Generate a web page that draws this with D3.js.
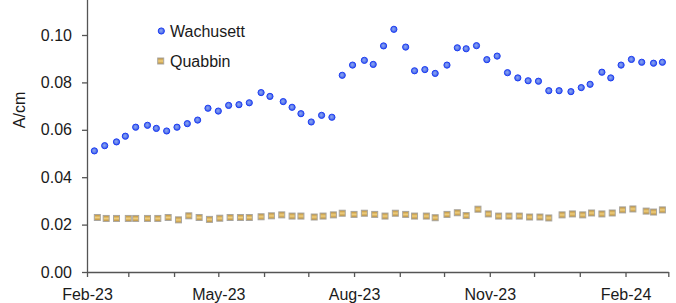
<!DOCTYPE html>
<html>
<head>
<meta charset="utf-8">
<script src="https://cdn.jsdelivr.net/npm/d3@7"></script>
<style>
  body { margin: 0; background: #fff; }
  svg { display: block; font-family: "Liberation Sans", Arial, sans-serif; }
</style>
</head>
<body>
<svg id="chart"></svg>
<script>
// sample dates (weekly) and absorbance values
const wachDates = ["2023-02-06","2023-02-13","2023-02-21","2023-02-27","2023-03-06","2023-03-14","2023-03-20","2023-03-27",
  "2023-04-03","2023-04-10","2023-04-17","2023-04-24","2023-05-01","2023-05-08","2023-05-15","2023-05-22","2023-05-30",
  "2023-06-05","2023-06-14","2023-06-20","2023-06-26","2023-07-03","2023-07-10","2023-07-17","2023-07-24","2023-07-31",
  "2023-08-08","2023-08-14","2023-08-21","2023-08-28","2023-09-05","2023-09-11","2023-09-18","2023-09-25","2023-10-03",
  "2023-10-10","2023-10-16","2023-10-23","2023-10-30","2023-11-06","2023-11-13","2023-11-20","2023-11-27","2023-12-04",
  "2023-12-11","2023-12-18","2023-12-26","2024-01-02","2024-01-08","2024-01-16","2024-01-22","2024-01-29","2024-02-05",
  "2024-02-12","2024-02-20","2024-02-26"];
const wachValues = [0.0511,0.0533,0.0549,0.0573,0.0611,0.0619,0.0606,0.0595,
  0.0611,0.0626,0.0641,0.0691,0.0679,0.0703,0.0706,0.0714,0.0757,
  0.0741,0.0719,0.0695,0.0668,0.0633,0.0661,0.0653,0.0830,0.0873,
  0.0893,0.0876,0.0954,0.1024,0.0949,0.0849,0.0854,0.0838,0.0873,
  0.0946,0.0942,0.0955,0.0896,0.0911,0.0841,0.0819,0.0807,0.0805,
  0.0765,0.0765,0.0761,0.0778,0.0792,0.0843,0.0819,0.0873,0.0897,
  0.0885,0.0881,0.0885];

const quabDates = ["2023-02-08","2023-02-14","2023-02-21","2023-03-01","2023-03-06","2023-03-14","2023-03-21","2023-03-28",
  "2023-04-04","2023-04-11","2023-04-18","2023-04-25","2023-05-02","2023-05-09","2023-05-16","2023-05-22","2023-05-30",
  "2023-06-06","2023-06-13","2023-06-20","2023-06-26","2023-07-05","2023-07-11","2023-07-18","2023-07-24","2023-08-01",
  "2023-08-08","2023-08-15","2023-08-22","2023-08-29","2023-09-05","2023-09-11","2023-09-19","2023-09-25","2023-10-03",
  "2023-10-10","2023-10-16","2023-10-24","2023-10-31","2023-11-07","2023-11-14","2023-11-21","2023-11-28","2023-12-05",
  "2023-12-11","2023-12-20","2023-12-27","2024-01-03","2024-01-09","2024-01-16","2024-01-23","2024-01-30","2024-02-06",
  "2024-02-15","2024-02-20","2024-02-26"];
const quabValues = [0.0230,0.0226,0.0226,0.0226,0.0226,0.0226,0.0226,0.0230,
  0.0220,0.0237,0.0230,0.0222,0.0227,0.0230,0.0230,0.0230,0.0233,
  0.0237,0.0241,0.0236,0.0236,0.0232,0.0236,0.0241,0.0248,0.0243,
  0.0248,0.0243,0.0236,0.0248,0.0243,0.0236,0.0236,0.0229,0.0243,
  0.0250,0.0238,0.0265,0.0245,0.0236,0.0236,0.0236,0.0232,0.0232,
  0.0228,0.0241,0.0245,0.0241,0.0249,0.0245,0.0249,0.0262,0.0266,
  0.0257,0.0253,0.0262];

const yTicks = [0, 0.02, 0.04, 0.06, 0.08, 0.10];
const seriesNames = ["Wachusett", "Quabbin"];

const W = 676, H = 303;
const parse = d3.timeParse("%Y-%m-%d");
const svg = d3.select("#chart").attr("width", W).attr("height", H);

const x = d3.scaleTime()
  .domain([new Date(2023, 1, 1), new Date(2024, 2, 1)])
  .range([87, 668.3]);
// axis runs past the top edge of the picture (0.12 is just off screen)
const y = d3.scaleLinear()
  .domain([0, 0.12])
  .range([272, 272 - 0.12 * 2370]);

// gradients for the markers
const defs = svg.append("defs");
const rg = defs.append("radialGradient").attr("id", "dotFill")
  .attr("cx", "45%").attr("cy", "45%").attr("r", "60%");
rg.append("stop").attr("offset", "0%").attr("stop-color", "#8fa8f0");
rg.append("stop").attr("offset", "100%").attr("stop-color", "#3557ea");
const lg = defs.append("linearGradient").attr("id", "sqFill")
  .attr("x1", 0).attr("y1", 0).attr("x2", 0).attr("y2", 1);
lg.append("stop").attr("offset", "0%").attr("stop-color", "#b88a34");
lg.append("stop").attr("offset", "50%").attr("stop-color", "#f0cf7e");
lg.append("stop").attr("offset", "100%").attr("stop-color", "#b88a34");

// axes
const yAxis = d3.axisLeft(y)
  .tickValues(yTicks)
  .tickFormat(d3.format(".2f"))
  .tickSize(5)
  .tickPadding(10)
  .tickSizeOuter(0);
const gy = svg.append("g").attr("transform", "translate(87,0)").call(yAxis);

const xAxis = d3.axisBottom(x)
  .ticks(d3.timeMonth.every(1))
  .tickFormat(d => (d.getMonth() % 3 === 1) ? d3.timeFormat("%b-%y")(d) : "")
  .tickSize(5)
  .tickPadding(12)
  .tickSizeOuter(0);
const gx = svg.append("g").attr("transform", "translate(0,272)").call(xAxis);

[gx, gy].forEach(g => {
  g.select(".domain").attr("stroke", "#555").attr("stroke-width", 1.3);
  g.selectAll(".tick line").attr("stroke", "#555").attr("stroke-width", 1.3);
  g.selectAll(".tick text").attr("fill", "#1a1a1a").style("font-size", "16px")
    .style("font-family", '"Liberation Sans", Arial, sans-serif');
});

svg.append("text")
  .attr("transform", "translate(25,110) rotate(-90)")
  .attr("text-anchor", "middle")
  .attr("fill", "#1a1a1a")
  .style("font-size", "16px")
  .text("A/cm");

// Quabbin squares
const quab = quabDates.map((d, i) => ({ date: parse(d), v: quabValues[i] }));
svg.append("g").selectAll("rect")
  .data(quab)
  .enter()
  .append("rect")
  .attr("x", d => x(d.date) - 3)
  .attr("y", d => y(d.v) - 3)
  .attr("width", 6)
  .attr("height", 6)
  .attr("fill", "url(#sqFill)")
  .attr("stroke", "#a9a6a0")
  .attr("stroke-width", 1);

// Wachusett circles
const wach = wachDates.map((d, i) => ({ date: parse(d), v: wachValues[i] }));
svg.append("g").selectAll("circle")
  .data(wach)
  .enter()
  .append("circle")
  .attr("cx", d => x(d.date))
  .attr("cy", d => y(d.v))
  .attr("r", 3.1)
  .attr("fill", "url(#dotFill)")
  .attr("stroke", "#1d3df2")
  .attr("stroke-width", 1);

// legend
const legend = svg.append("g");
legend.append("circle").attr("cx", 161.3).attr("cy", 31).attr("r", 3.1)
  .attr("fill", "url(#dotFill)").attr("stroke", "#1d3df2");
legend.append("rect").attr("x", 157.7).attr("y", 58).attr("width", 6).attr("height", 6)
  .attr("fill", "url(#sqFill)").attr("stroke", "#a9a6a0");
legend.selectAll("text")
  .data(seriesNames)
  .enter()
  .append("text")
  .attr("x", 170)
  .attr("y", (d, i) => 37 + i * 30)
  .attr("fill", "#1a1a1a")
  .style("font-size", "16px")
  .text(d => d);
</script>
</body>
</html>
